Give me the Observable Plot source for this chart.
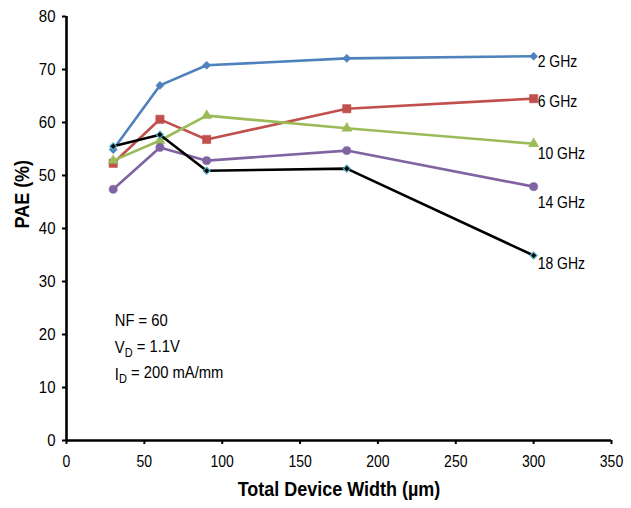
<!DOCTYPE html>
<html>
<head>
<meta charset="utf-8">
<script src="https://cdn.jsdelivr.net/npm/d3@7"></script>
<script src="https://cdn.jsdelivr.net/npm/@observablehq/plot@0.6"></script>
<style>
  html, body { margin: 0; padding: 0; background: #fff; }
  #chart svg { display: block; }
</style>
</head>
<body>
<div id="chart"></div>
<script>
const widths = [30, 60, 90, 180, 300];
const series = ["2 GHz", "6 GHz", "10 GHz", "14 GHz", "18 GHz"];
const pae2  = [54.9, 67.0, 70.8, 72.1, 72.5];
const pae6  = [52.3, 60.6, 56.8, 62.6, 64.5];
const pae10 = [52.8, 56.6, 61.3, 58.9, 56.0];
const pae14 = [47.4, 55.3, 52.8, 54.7, 47.9];
const pae18 = [55.5, 57.7, 50.9, 51.3, 34.9];
const xTicks = [0, 50, 100, 150, 200, 250, 300, 350];
const yTicks = [0, 10, 20, 30, 40, 50, 60, 70, 80];
const notes = ["NF = 60", "V_D = 1.1V", "I_D = 200 mA/mm"];

const values = [pae2, pae6, pae10, pae14, pae18];
const rows = series.flatMap((s, i) => widths.map((w, j) => ({series: s, width: w, pae: values[i][j]})));
const bySeries = s => rows.filter(d => d.series === s);
const last = s => bySeries(s).slice(-1);

const FONT = "Liberation Sans, Arial, sans-serif";
const styles = {
  "2 GHz":  {color: "#4F81BD", symbol: "diamond2", r: 3.7, fill: "#4F81BD", stroke: "#4F81BD", sw: 0.5, dy: 6},
  "6 GHz":  {color: "#C0504D", symbol: "square",   r: 4.7, fill: "#C0504D", stroke: "#C0504D", sw: 0.5, dy: 3},
  "10 GHz": {color: "#9BBB59", symbol: "triangle", r: 3.8, fill: "#9BBB59", stroke: "#9BBB59", sw: 0.5, dy: 10},
  "14 GHz": {color: "#8064A2", symbol: "circle",   r: 4.1, fill: "#8064A2", stroke: "#8064A2", sw: 0.5, dy: 16},
  "18 GHz": {color: "#000000", symbol: "diamond2", r: 3.1, fill: "#000000", stroke: "#4BACC6", sw: 1.2, dy: 8}
};

const marks = [];
for (const s of series) {
  const st = styles[s];
  marks.push(Plot.line(bySeries(s), {x: "width", y: "pae", stroke: st.color, strokeWidth: 2.6}));
  marks.push(Plot.dot(bySeries(s), {x: "width", y: "pae", symbol: st.symbol, r: st.r, fill: st.fill, stroke: st.stroke, strokeWidth: st.sw}));
}
for (const s of series) {
  marks.push(Plot.text(last(s), {x: "width", y: "pae", text: "series", textAnchor: "start", dx: 4, dy: styles[s].dy, fontSize: 14, fill: "#000"}));
}

const chart = Plot.plot({
  width: 631,
  height: 508,
  marginLeft: 66,
  marginRight: 20,
  marginTop: 16,
  marginBottom: 68,
  style: {fontFamily: FONT, fontSize: "14px", color: "#000", background: "#fff", overflow: "visible"},
  x: {domain: [0, 350]},
  y: {domain: [0, 80]},
  marks: [
    Plot.axisX({ticks: xTicks, tickSize: 4, tickPadding: 11, strokeWidth: 2, label: null, fontSize: 14}),
    Plot.axisY({ticks: yTicks, tickSize: 4, tickPadding: 7, strokeWidth: 2, label: null, fontSize: 15}),
    Plot.ruleY([0], {stroke: "#000", strokeWidth: 2.6}),
    Plot.ruleX([0], {stroke: "#000", strokeWidth: 2.6}),
    ...marks,
    Plot.text(notes, {x: 31, y: (d, i) => [22.6, 17.5, 12.5][i], text: d => d, textAnchor: "start", fontSize: 14.8, fill: "#000"}),
    Plot.text(["PAE (%)"], {frameAnchor: "left", rotate: -90, dx: -44, fontWeight: "bold", fontSize: 18, fill: "#000"}),
    Plot.text(["Total Device Width (µm)"], {frameAnchor: "bottom", dy: 55, fontWeight: "bold", fontSize: 18, fill: "#000"})
  ]
});

// Render subscripts ("V_D" -> V with subscript D)
d3.select(chart).selectAll("text").each(function() {
  const t = d3.select(this);
  const txt = t.text();
  const m = txt.match(/^(\w)_(\w)(.*)$/);
  if (m) {
    t.text(null);
    t.append("tspan").text(m[1]);
    t.append("tspan").attr("dy", "0.3em").attr("font-size", "11").text(m[2]);
    t.append("tspan").attr("dy", "-0.3em").text(m[3]);
  }
});

// The reference's glyphs are slightly taller than wide: stretch text vertically
d3.select(chart).selectAll("text").each(function() {
  const tr = this.getAttribute("transform") || "";
  const x = +this.getAttribute("x") || 0;
  const y = +this.getAttribute("y") || 0;
  this.setAttribute("transform", `${tr} translate(${x},${y}) scale(1,1.13) translate(${-x},${-y})`);
});

document.getElementById("chart").appendChild(chart);
</script>
</body>
</html>
